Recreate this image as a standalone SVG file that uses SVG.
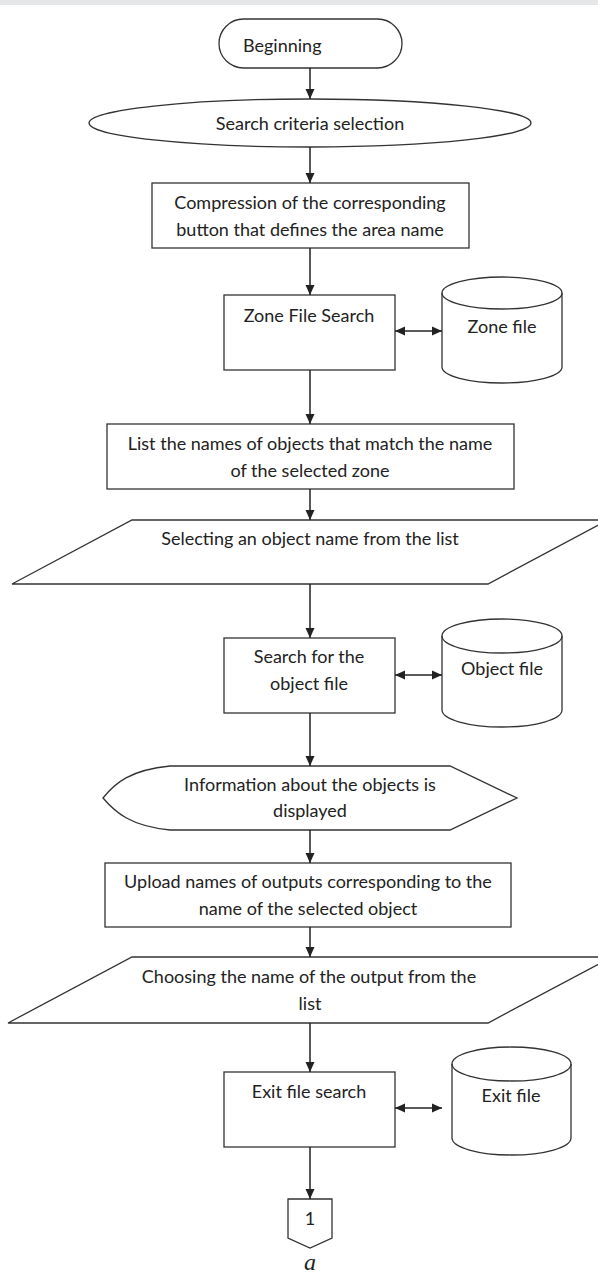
<svg xmlns="http://www.w3.org/2000/svg" width="598" height="1275" viewBox="0 0 598 1275">
<defs>
<marker id="ah" markerWidth="10" markerHeight="10" refX="10" refY="5" orient="auto" markerUnits="userSpaceOnUse">
<path d="M0,0.5 L10,5 L0,9.5 Z" fill="#222"/>
</marker>
<marker id="ahs" markerWidth="10" markerHeight="10" refX="0" refY="5" orient="auto" markerUnits="userSpaceOnUse">
<path d="M10,0.5 L0,5 L10,9.5 Z" fill="#222"/>
</marker>
<style>
.s{fill:#fff;stroke:#333;stroke-width:1.3}
.t{font-family:Lato,"Liberation Sans",sans-serif;font-size:18px;fill:#222;text-anchor:middle}
.c{fill:none;stroke:#222;stroke-width:1.5}
</style>
</defs>
<rect x="0" y="0" width="598" height="5" fill="#e5e6e8"/>
<g id="beginning">
<rect class="s" x="219" y="19" width="183" height="49" rx="24.5"/>
<text class="t" x="243" y="52" style="text-anchor:start">Beginning</text>
</g>
<g id="criteria">
<ellipse class="s" cx="310" cy="123" rx="221" ry="24"/>
<text class="t" x="310" y="130">Search criteria selection</text>
</g>
<g id="compression">
<rect class="s" x="152" y="183" width="317" height="65"/>
<text class="t" x="310" y="209">Compression of the corresponding</text>
<text class="t" x="310" y="236">button that defines the area name</text>
</g>
<g id="zonesearch">
<rect class="s" x="224" y="295" width="171" height="75"/>
<text class="t" x="309" y="322">Zone File Search</text>
</g>
<g id="zonefile">
<path class="s" d="M442,293 A60,16 0 0 1 562,293 L562,367 A60,16 0 0 1 442,367 Z"/>
<path class="s" style="fill:none" d="M442,293 A60,16 0 0 0 562,293"/>
<text class="t" x="502" y="333">Zone file</text>
</g>
<g id="listnames">
<rect class="s" x="107" y="424" width="407" height="65"/>
<text class="t" x="310" y="450">List the names of objects that match the name</text>
<text class="t" x="310" y="477">of the selected zone</text>
</g>
<g id="selectobject">
<path class="s" d="M132,520 L608,520 L488,584 L12,584 Z"/>
<text class="t" x="310" y="545">Selecting an object name from the list</text>
</g>
<g id="objectsearch">
<rect class="s" x="224" y="638" width="171" height="75"/>
<text class="t" x="309" y="663">Search for the</text>
<text class="t" x="309" y="690">object file</text>
</g>
<g id="objectfile">
<path class="s" d="M442,636 A60,17 0 0 1 562,636 L562,710 A60,17 0 0 1 442,710 Z"/>
<path class="s" style="fill:none" d="M442,636 A60,17 0 0 0 562,636"/>
<text class="t" x="502" y="675">Object file</text>
</g>
<g id="display">
<path class="s" d="M170,766 L450,766 L517,798 L450,830 L170,830 C130,826 115,812 103,798 C115,783 130,770 170,766 Z"/>
<text class="t" x="310" y="791">Information about the objects is</text>
<text class="t" x="310" y="817">displayed</text>
</g>
<g id="upload">
<rect class="s" x="105" y="863" width="406" height="64"/>
<text class="t" x="308" y="888">Upload names of outputs corresponding to the</text>
<text class="t" x="308" y="915">name of the selected object</text>
</g>
<g id="chooseoutput">
<path class="s" d="M132,957 L612,957 L488,1023 L8,1023 Z"/>
<text class="t" x="309" y="983">Choosing the name of the output from the</text>
<text class="t" x="310" y="1010">list</text>
</g>
<g id="exitsearch">
<rect class="s" x="224" y="1072" width="171" height="75"/>
<text class="t" x="309" y="1098">Exit file search</text>
</g>
<g id="exitfile">
<path class="s" d="M452,1064 A59.5,17 0 0 1 571,1064 L571,1138 A59.5,17 0 0 1 452,1138 Z"/>
<path class="s" style="fill:none" d="M452,1064 A59.5,17 0 0 0 571,1064"/>
<text class="t" x="511" y="1102">Exit file</text>
</g>
<g id="offpage">
<path class="s" d="M288,1199 L332,1199 L332,1238 L310,1248 L288,1238 Z"/>
<text class="t" x="310" y="1225">1</text>
</g>
<text x="310" y="1270" style="font-family:'Liberation Serif',serif;font-style:italic;font-size:24px;fill:#222;text-anchor:middle">a</text>
<g id="connectors">
<line class="c" x1="310" y1="68" x2="310" y2="99" marker-end="url(#ah)"/>
<line class="c" x1="310" y1="147" x2="310" y2="183" marker-end="url(#ah)"/>
<line class="c" x1="310" y1="248" x2="310" y2="295" marker-end="url(#ah)"/>
<line class="c" x1="310" y1="370" x2="310" y2="424" marker-end="url(#ah)"/>
<line class="c" x1="310" y1="489" x2="310" y2="520" marker-end="url(#ah)"/>
<line class="c" x1="310" y1="584" x2="310" y2="638" marker-end="url(#ah)"/>
<line class="c" x1="310" y1="713" x2="310" y2="766" marker-end="url(#ah)"/>
<line class="c" x1="310" y1="830" x2="310" y2="863" marker-end="url(#ah)"/>
<line class="c" x1="310" y1="927" x2="310" y2="957" marker-end="url(#ah)"/>
<line class="c" x1="310" y1="1023" x2="310" y2="1072" marker-end="url(#ah)"/>
<line class="c" x1="310" y1="1147" x2="310" y2="1199" marker-end="url(#ah)"/>
<line class="c" x1="395" y1="331" x2="442" y2="331" marker-start="url(#ahs)" marker-end="url(#ah)"/>
<line class="c" x1="395" y1="675" x2="442" y2="675" marker-start="url(#ahs)" marker-end="url(#ah)"/>
<line class="c" x1="395" y1="1108" x2="442" y2="1108" marker-start="url(#ahs)" marker-end="url(#ah)"/>
</g>
</svg>
